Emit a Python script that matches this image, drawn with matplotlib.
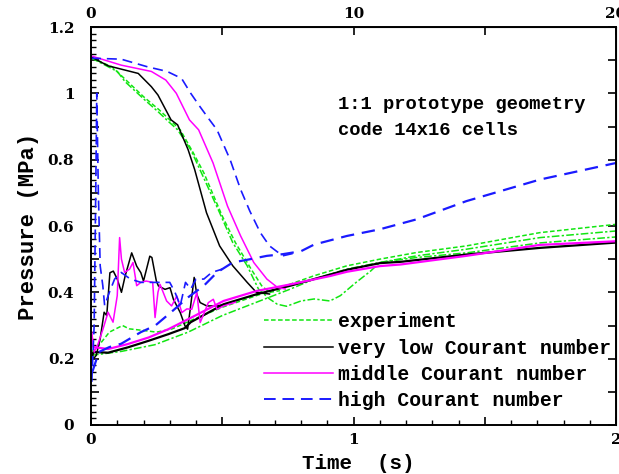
import matplotlib
matplotlib.use('Agg')
from matplotlib import pyplot as plt
from matplotlib.lines import Line2D
from matplotlib.ticker import MultipleLocator, FuncFormatter

# experiment (green): two falling traces, three rising traces
t_exp_fall1 = [0.0, 0.10, 0.13, 0.205, 0.255, 0.295, 0.33, 0.38, 0.415, 0.49, 0.54, 0.595, 0.638, 0.68, 0.71,
               0.745, 0.8, 0.85, 0.91, 0.95, 1.01, 1.065, 1.1, 1.24, 1.43, 1.71, 2.0]
p_exp_fall1 = [1.107, 1.066, 1.035, 0.98, 0.945, 0.915, 0.89, 0.83, 0.77, 0.64, 0.55, 0.48, 0.41, 0.38, 0.364,
               0.358, 0.374, 0.38, 0.374, 0.39, 0.43, 0.464, 0.49, 0.505, 0.519, 0.549, 0.567]
t_exp_fall2 = [0.0, 0.08, 0.12, 0.20, 0.26, 0.30, 0.34, 0.39, 0.43, 0.50, 0.55, 0.61, 0.65, 0.68, 0.72]
p_exp_fall2 = [1.107, 1.08, 1.05, 0.99, 0.95, 0.92, 0.89, 0.82, 0.76, 0.63, 0.55, 0.47, 0.42, 0.40, 0.405]
t_exp_rise1 = [0.0, 0.03, 0.07, 0.12, 0.145, 0.2, 0.25, 0.31, 0.38, 0.5, 0.63, 0.76, 0.85, 0.975, 1.1, 1.24,
               1.43, 1.71, 2.0]
p_exp_rise1 = [0.22, 0.24, 0.28, 0.30, 0.29, 0.285, 0.28, 0.29, 0.315, 0.355, 0.39, 0.425, 0.45, 0.48, 0.50,
               0.52, 0.54, 0.58, 0.605]
t_exp_rise2 = [0.0, 0.05, 0.116, 0.243, 0.37, 0.5, 0.63, 0.76, 0.85, 0.975, 1.1, 1.24, 1.43, 1.71, 2.0]
p_exp_rise2 = [0.21, 0.215, 0.222, 0.242, 0.28, 0.33, 0.37, 0.41, 0.44, 0.47, 0.49, 0.51, 0.53, 0.565, 0.585]

# very low Courant number (black)
t_low_fall = [0.0, 0.065, 0.18, 0.23, 0.255, 0.305, 0.33, 0.37, 0.395, 0.44, 0.49, 0.54, 0.595, 0.63, 0.68]
p_low_fall = [1.11, 1.083, 1.06, 1.02, 0.995, 0.92, 0.905, 0.83, 0.77, 0.64, 0.54, 0.48, 0.43, 0.40, 0.395]
t_low_osc = [0.0, 0.01, 0.02, 0.035, 0.05, 0.06, 0.072, 0.085, 0.1, 0.116, 0.13, 0.155, 0.174, 0.19, 0.2,
             0.224, 0.232, 0.249, 0.257, 0.282, 0.301, 0.314, 0.34, 0.358, 0.368, 0.378, 0.393, 0.403, 0.416,
             0.441, 0.48, 0.52]
p_low_osc = [0.22, 0.2, 0.21, 0.26, 0.34, 0.33, 0.459, 0.464, 0.44, 0.40, 0.449, 0.519, 0.479, 0.459, 0.434,
             0.509, 0.505, 0.434, 0.419, 0.409, 0.414, 0.379, 0.339, 0.299, 0.289, 0.349, 0.445, 0.394, 0.369,
             0.359, 0.359, 0.365]
t_low_rise = [0.0, 0.01, 0.065, 0.14, 0.22, 0.295, 0.357, 0.38, 0.505, 0.63, 0.76, 0.85, 0.975, 1.1, 1.18,
              1.43, 1.71, 2.0]
p_low_rise = [0.2, 0.22, 0.218, 0.234, 0.254, 0.274, 0.292, 0.31, 0.364, 0.394, 0.42, 0.44, 0.468, 0.488,
              0.492, 0.514, 0.534, 0.55]

# middle Courant number (magenta)
t_mid_fall = [0.0, 0.115, 0.23, 0.285, 0.325, 0.375, 0.41, 0.465, 0.52, 0.57, 0.62, 0.67, 0.71, 0.74]
p_mid_fall = [1.113, 1.085, 1.066, 1.04, 1.0, 0.92, 0.89, 0.79, 0.66, 0.57, 0.49, 0.44, 0.415, 0.41]
t_mid_osc = [0.003, 0.012, 0.025, 0.046, 0.065, 0.084, 0.1, 0.109, 0.116, 0.128, 0.147, 0.16, 0.174, 0.19,
             0.21, 0.235, 0.244, 0.255, 0.263, 0.288, 0.307, 0.327, 0.346, 0.365, 0.384, 0.403, 0.416, 0.447,
             0.466, 0.48, 0.505, 0.55]
p_mid_osc = [0.28, 0.22, 0.24, 0.29, 0.34, 0.31, 0.39, 0.565, 0.50, 0.46, 0.47, 0.49, 0.42, 0.43, 0.434,
             0.43, 0.324, 0.40, 0.424, 0.374, 0.359, 0.389, 0.339, 0.35, 0.349, 0.399, 0.309, 0.369, 0.379,
             0.349, 0.359, 0.37]
t_mid_rise = [0.0, 0.01, 0.065, 0.14, 0.22, 0.295, 0.37, 0.505, 0.63, 0.76, 0.91, 0.975, 1.1, 1.18, 1.43,
              1.71, 2.0]
p_mid_rise = [0.25, 0.235, 0.229, 0.244, 0.264, 0.289, 0.319, 0.374, 0.404, 0.424, 0.449, 0.462, 0.479,
              0.484, 0.51, 0.543, 0.554]

# high Courant number (blue)
t_high_fall = [0.0, 0.115, 0.215, 0.29, 0.345, 0.38, 0.415, 0.447, 0.48, 0.53, 0.57, 0.605, 0.645, 0.68,
               0.73, 0.785]
p_high_fall = [1.106, 1.103, 1.08, 1.066, 1.045, 1.0, 0.96, 0.925, 0.89, 0.80, 0.71, 0.645, 0.58, 0.54,
               0.51, 0.52]
t_high_osc = [0.003, 0.012, 0.018, 0.022, 0.028, 0.035, 0.045, 0.052, 0.07, 0.09, 0.115, 0.15, 0.19, 0.24,
              0.3, 0.32, 0.34, 0.36, 0.38, 0.4, 0.43, 0.46, 0.5]
p_high_osc = [0.13, 0.3, 0.7, 1.0, 0.7, 0.48, 0.42, 0.36, 0.40, 0.44, 0.46, 0.44, 0.43, 0.43, 0.43, 0.40,
              0.36, 0.43, 0.41, 0.44, 0.44, 0.46, 0.47]
t_high_rise = [0.005, 0.03, 0.07, 0.115, 0.19, 0.245, 0.305, 0.37, 0.43, 0.48, 0.54, 0.607, 0.67, 0.73, 0.8,
               0.85, 0.975, 1.1, 1.24, 1.43, 1.71, 2.0]
p_high_rise = [0.16, 0.22, 0.235, 0.245, 0.28, 0.30, 0.34, 0.385, 0.42, 0.46, 0.49, 0.50, 0.51, 0.515, 0.524,
               0.544, 0.57, 0.59, 0.62, 0.675, 0.74, 0.79]

legend_labels = ['experiment', 'very low Courant number', 'middle Courant number', 'high Courant number']
note_lines = ['1:1 prototype geometry', 'code 14x16 cells']

GREEN = '#11e611'
BLACK = '#000000'
MAGENTA = '#ff00ff'
BLUE = '#1a1aff'
MONO = 'Liberation Mono'
SERIF = 'DejaVu Serif'

fig = plt.figure(figsize=(6.19, 4.74), dpi=100)
ax = fig.add_axes([91 / 619, 49 / 474, 525 / 619, 398 / 474])

dot = (0, (3, 1.6))
dashdot = (0, (5, 1.5, 1.5, 1.5))
ax.plot(t_exp_fall1, p_exp_fall1, color=GREEN, lw=1.1, ls=dashdot)
ax.plot(t_exp_fall2, p_exp_fall2, color=GREEN, lw=1.1, ls=dot)
ax.plot(t_exp_rise1, p_exp_rise1, color=GREEN, lw=1.1, ls=dot)
ax.plot(t_exp_rise2, p_exp_rise2, color=GREEN, lw=1.1, ls=dashdot)

ax.plot(t_low_fall, p_low_fall, color=BLACK, lw=1.1)
ax.plot(t_low_osc, p_low_osc, color=BLACK, lw=1.1)
ax.plot(t_low_rise, p_low_rise, color=BLACK, lw=1.6)

ax.plot(t_mid_fall, p_mid_fall, color=MAGENTA, lw=1.1)
ax.plot(t_mid_osc, p_mid_osc, color=MAGENTA, lw=1.1)
ax.plot(t_mid_rise, p_mid_rise, color=MAGENTA, lw=1.6)

dash = (0, (6, 3.5))
ax.plot(t_high_fall, p_high_fall, color=BLUE, lw=1.2, ls=dash)
ax.plot(t_high_osc, p_high_osc, color=BLUE, lw=1.2, ls=dash)
ax.plot(t_high_rise, p_high_rise, color=BLUE, lw=1.6, ls=dash)

ax.set_xlim(0, 2)
ax.set_ylim(0, 1.2)

# ticks
ax.xaxis.set_major_locator(MultipleLocator(0.5))
ax.xaxis.set_minor_locator(MultipleLocator(0.1))
ax.xaxis.set_major_formatter(FuncFormatter(lambda v, pos: f'{v:g}' if abs(v - round(v)) < 1e-6 else ''))
ax.yaxis.set_major_locator(MultipleLocator(0.1))
ax.yaxis.set_minor_locator(MultipleLocator(0.02))
ax.yaxis.set_major_formatter(FuncFormatter(
    lambda v, pos: f'{v:g}' if abs(v * 5 - round(v * 5)) < 1e-6 else ''))
ax.tick_params(which='major', direction='in', length=6, width=1.2)
ax.tick_params(which='minor', direction='in', length=3.5, width=1.0)
ax.tick_params(axis='y', which='both', right=False)
ax.tick_params(axis='x', which='both', top=False, pad=6)
ax.tick_params(axis='y', pad=12)
for lab in ax.get_xticklabels() + ax.get_yticklabels():
    lab.set_fontfamily(SERIF)
    lab.set_fontweight('bold')
    lab.set_fontsize(11)
for sp in ax.spines.values():
    sp.set_linewidth(1.4)

top = ax.secondary_xaxis('top', functions=(lambda x: x * 10, lambda x: x / 10))
top.xaxis.set_major_locator(MultipleLocator(5))
top.xaxis.set_major_formatter(FuncFormatter(lambda v, pos: f'{v:g}' if abs(v % 10) < 1e-6 else ''))
top.tick_params(direction='in', length=6, width=1.2, pad=4)
for lab in top.get_xticklabels():
    lab.set_fontfamily(SERIF)
    lab.set_fontweight('bold')
    lab.set_fontsize(11)

right = ax.secondary_yaxis('right')
right.yaxis.set_major_locator(MultipleLocator(0.1))
right.tick_params(direction='in', length=6, width=1.2, labelright=False)

ax.set_xlabel('Time  (s)', fontfamily=MONO, fontweight='bold', fontsize=15)
ax.xaxis.set_label_coords(0.51, -0.072)
ax.set_ylabel('Pressure (MPa)', fontfamily=MONO, fontweight='bold', fontsize=16, labelpad=6)

ax.text(0.47, 0.805, note_lines[0], transform=ax.transAxes, fontfamily=MONO, fontweight='bold',
        fontsize=13.5, va='center')
ax.text(0.47, 0.74, note_lines[1], transform=ax.transAxes, fontfamily=MONO, fontweight='bold',
        fontsize=13.5, va='center')

handles = [Line2D([], [], color=GREEN, lw=1.1, ls=dot),
           Line2D([], [], color=BLACK, lw=1.1),
           Line2D([], [], color=MAGENTA, lw=1.1),
           Line2D([], [], color=BLUE, lw=1.4, ls=dash)]
ax.legend(handles, legend_labels, loc='upper left', bbox_to_anchor=(0.33, 0.283), frameon=False,
          prop={'family': MONO, 'weight': 'bold', 'size': 14.2}, handlelength=3.5, handletextpad=0.25,
          labelspacing=0.37, borderpad=0, borderaxespad=0)

fig.savefig('out.png', dpi=100)
